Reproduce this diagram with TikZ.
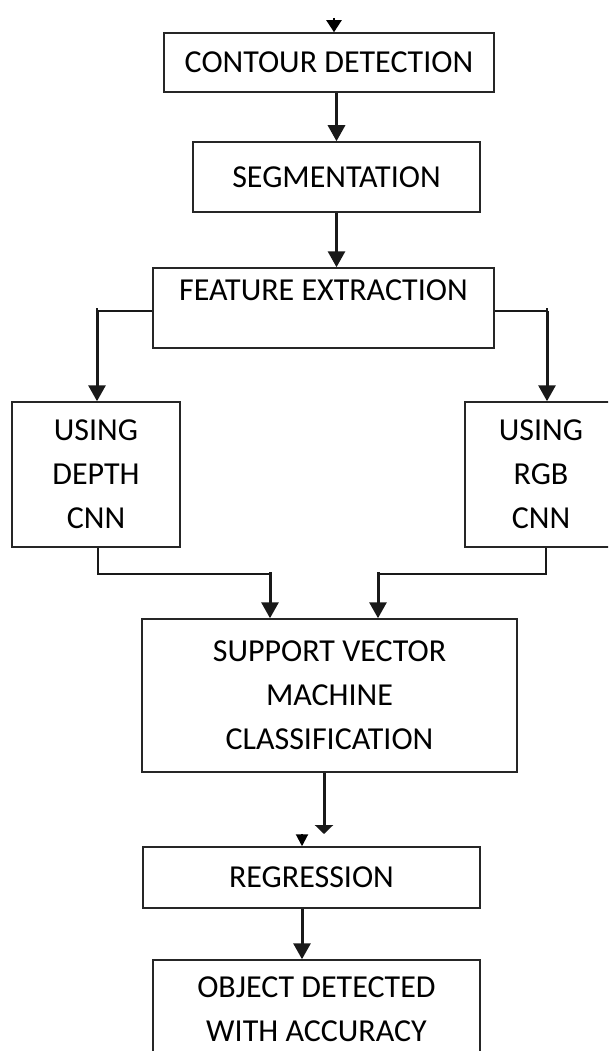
\documentclass[tikz,border=0pt]{standalone}
\usepackage{fontspec}
\setmainfont{Carlito}
\usetikzlibrary{positioning, arrows.meta}

\begin{document}
\begin{tikzpicture}[x=1pt,y=-1pt,
  box/.style={draw=black!85,line width=1.5pt,align=center,inner sep=0pt},
  every node/.style={font=\fontsize{32}{44}\selectfont},
  link/.style={line width=2pt,black!90},
  go/.style={line width=3pt,black!90,-{Triangle[width=17pt,length=16pt]}}]
  \useasboundingbox (0,0) rectangle (608,1051);
  \clip (0,0) rectangle (608,1051);

  % blocks, placed at their centres
  \node[box,minimum width=330pt,minimum height=59pt] (contour) at (329,62.5) {CONTOUR DETECTION};
  \node[box,minimum width=287pt,minimum height=70pt] (seg) at (336.5,177) {SEGMENTATION};
  \node[box,minimum width=341pt,minimum height=80pt] (feat) at (323.5,308) {};
  \node[anchor=base] (feattxt) at ([yshift=-33pt]feat.north) {FEATURE EXTRACTION};
  \node[box,minimum width=168pt,minimum height=145pt] (depth) at (96,474.5) {USING\\DEPTH\\CNN};
  \node[box,minimum width=152pt,minimum height=145pt] (rgb) at (541,474.5) {USING\\RGB\\CNN};
  \node[box,minimum width=375pt,minimum height=153pt] (svm) at (329.5,695.5) {SUPPORT VECTOR\\MACHINE\\CLASSIFICATION};
  \node[box,minimum width=337pt,minimum height=61pt] (reg) at (311.5,877.5) {REGRESSION};
  \node[box,minimum width=327pt,minimum height=99pt] (obj) at (316.5,1009.5) {OBJECT DETECTED\\WITH ACCURACY};

  % loose ends
  \coordinate (in) at (334,18);
  \coordinate (svmend) at (324,834);
  \coordinate (regin) at (302,834);

  % connectors
  \draw[line width=2pt,-{Triangle[width=15pt,length=12pt]}] (in) -- (in |- contour.north);
  \draw[go] (seg.north |- contour.south) -- (seg.north);
  \draw[go] (seg.south) -- (seg.south |- feat.north);

  \draw[link] ([yshift=-3pt]feat.west) -| ([xshift=1pt]depth.north |- feat.west);
  \draw[go] ([xshift=1pt,yshift=-3pt]depth.north |- feat.west) -- ([xshift=1pt]depth.north);
  \draw[link] ([yshift=-3pt]feat.east) -| ([xshift=6pt]rgb.north |- feat.west);
  \draw[go] ([xshift=6pt,yshift=-3pt]rgb.north |- feat.west) -- ([xshift=6pt]rgb.north);

  \draw[link] ([xshift=2pt]depth.south) -- ++(0,26) -| ([xshift=-59.5pt,yshift=46pt]svm.north);
  \draw[go] ([xshift=-59.5pt,yshift=46pt]svm.north) -- ([xshift=-59.5pt]svm.north);
  \draw[link] ([xshift=5pt]rgb.south) -- ++(0,26) -| ([xshift=48.5pt,yshift=46pt]svm.north);
  \draw[go] ([xshift=48.5pt,yshift=46pt]svm.north) -- ([xshift=48.5pt]svm.north);

  \draw[line width=3pt,black!90,-{Triangle[width=18pt,length=9pt]}] (svmend |- svm.south) -- (svmend);
  \draw[line width=2pt,-{Triangle[width=12pt,length=12pt]}] (regin) -- (regin |- reg.north);
  \draw[go] (regin |- reg.south) -- (regin |- obj.north);
\end{tikzpicture}
\end{document}
